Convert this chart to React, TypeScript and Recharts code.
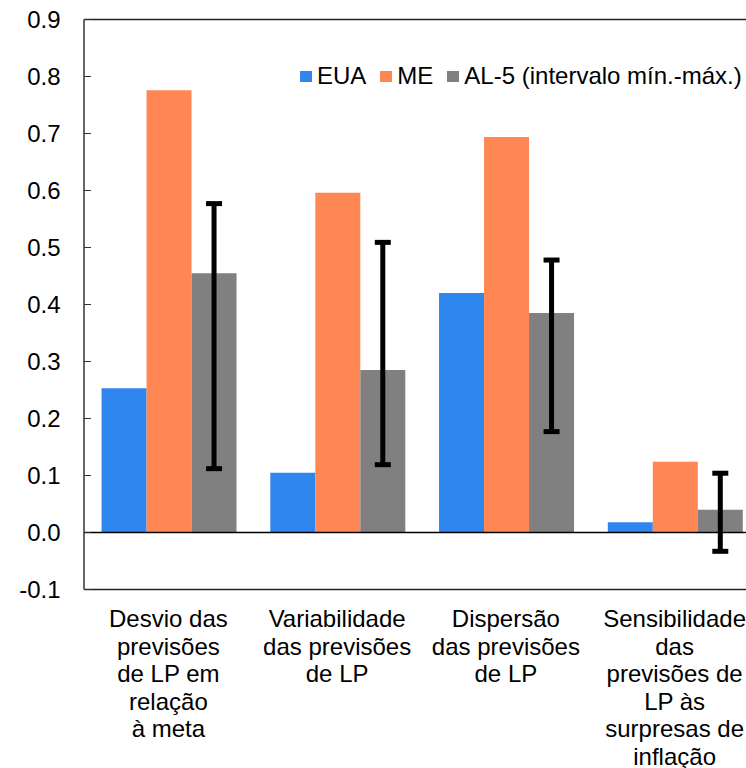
import React from 'react';
import { BarChart, Bar, XAxis, YAxis, ReferenceLine, Legend, ErrorBar } from 'recharts';

const categories = [
  'Desvio das\nprevisões\nde LP em\nrelação\nà meta',
  'Variabilidade\ndas previsões\nde LP',
  'Dispersão\ndas previsões\nde LP',
  'Sensibilidade\ndas\nprevisões de\nLP às\nsurpresas de\ninflação',
];
const euaValues = [0.253, 0.105, 0.42, 0.018];
const meValues = [0.776, 0.596, 0.694, 0.124];
const al5Values = [0.455, 0.285, 0.385, 0.04];
const al5Min = [0.112, 0.119, 0.177, -0.033];
const al5Max = [0.577, 0.509, 0.478, 0.104];
const yTicks = [-0.1, 0, 0.1, 0.2, 0.3, 0.4, 0.5, 0.6, 0.7, 0.8, 0.9];

const seriesInfo = [
  { key: 'eua', name: 'EUA', color: '#2E86EE' },
  { key: 'me', name: 'ME', color: '#FF8753' },
  { key: 'al5', name: 'AL-5 (intervalo mín.-máx.)', color: '#808080' },
];

const data = categories.map((cat, i) => ({
  cat,
  eua: euaValues[i],
  me: meValues[i],
  al5: al5Values[i],
  al5Err: [al5Values[i] - al5Min[i], al5Max[i] - al5Values[i]],
}));

const FONT = '"Liberation Sans", Arial, sans-serif';

const YTick = (props: any) => {
  const { x, y, payload } = props;
  return (
    <g>
      <line x1={x} y1={y} x2={x + 7} y2={y} stroke="#333" strokeWidth={1} />
      <text x={x - 23.5} y={y} dy={8.5} textAnchor="end" fontSize={24} fontFamily={FONT} fill="#000">
        {payload.value.toFixed(1)}
      </text>
    </g>
  );
};

const XTick = (props: any) => {
  const { x, y, payload } = props;
  const lines = String(payload.value).split('\n');
  return (
    <text x={x} y={y + 37.5} textAnchor="middle" fontSize={24} fontFamily={FONT} fill="#000">
      {lines.map((ln, i) => (
        <tspan key={i} x={x} dy={i === 0 ? 0 : 27.5}>
          {ln}
        </tspan>
      ))}
    </text>
  );
};

const LegendContent = () => (
  <div style={{ display: 'flex', alignItems: 'center', fontFamily: FONT, fontSize: 24, color: '#000', whiteSpace: 'nowrap' }}>
    {seriesInfo.map((s) => (
      <div key={s.key} style={{ display: 'flex', alignItems: 'center', marginRight: 14 }}>
        <span style={{ display: 'inline-block', width: 12, height: 11, background: s.color, marginRight: 5 }} />
        <span>{s.name}</span>
      </div>
    ))}
  </div>
);

export default function App() {
  return (
    <div style={{ position: 'fixed', left: 0, top: 0, width: 746, height: 768, overflow: 'hidden', background: '#fff' }}>
      <BarChart
        width={770}
        height={768}
        data={data}
        margin={{ top: 19.5, right: 11, left: 0, bottom: 0 }}
        barCategoryGap="10.4%"
        barGap={0}
      >
        <XAxis
          dataKey="cat"
          height={178.5}
          tick={<XTick />}
          tickLine={false}
          tickSize={0}
          tickMargin={0}
          axisLine={{ stroke: '#222', strokeWidth: 1.5 }}
          interval={0}
        />
        <YAxis
          width={84}
          domain={[-0.1, 0.9]}
          ticks={yTicks}
          tick={<YTick />}
          tickLine={false}
          tickSize={0}
          tickMargin={0}
          axisLine={{ stroke: '#333', strokeWidth: 1.5 }}
          allowDataOverflow
        />
        <ReferenceLine y={0.9} stroke="#222" strokeWidth={1.5} />
        <Legend
          layout="horizontal"
          verticalAlign="middle"
          align="center"
          content={<LegendContent />}
          wrapperStyle={{ top: 62, left: 300, width: 470 }}
        />
        <Bar dataKey="eua" name="EUA" fill="#2E86EE" isAnimationActive={false} />
        <Bar dataKey="me" name="ME" fill="#FF8753" isAnimationActive={false} />
        <Bar dataKey="al5" name="AL-5 (intervalo mín.-máx.)" fill="#808080" isAnimationActive={false}>
          <ErrorBar dataKey="al5Err" width={8} stroke="#000" strokeWidth={5} direction="y" isAnimationActive={false} />
        </Bar>
        <ReferenceLine y={0} stroke="#000" strokeWidth={1.5} />
      </BarChart>
    </div>
  );
}
